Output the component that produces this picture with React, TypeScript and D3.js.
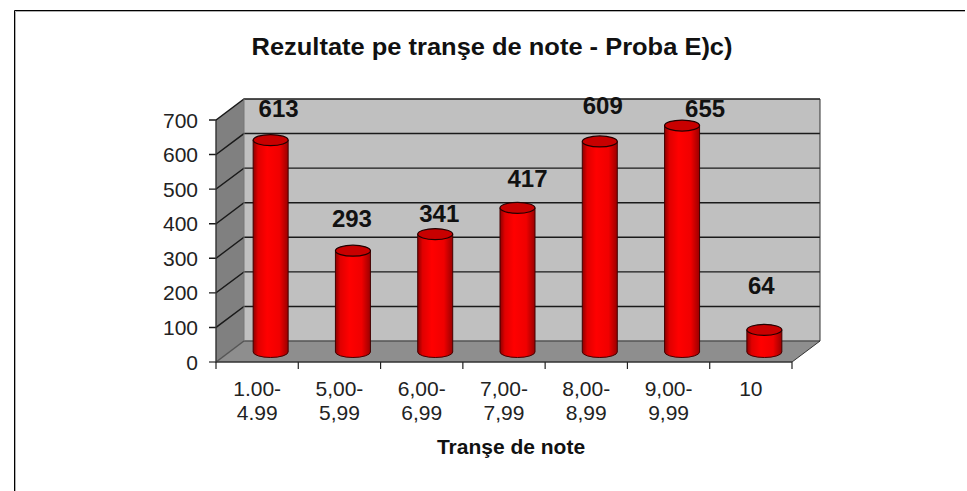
import React from "react";
import * as d3 from "d3";

const categories = [["1.00-", "4.99"], ["5,00-", "5,99"], ["6,00-", "6,99"], ["7,00-", "7,99"], ["8,00-", "8,99"], ["9,00-", "9,99"], ["10"]];
const values = [613, 293, 341, 417, 609, 655, 64];
const yTicks = [0, 100, 200, 300, 400, 500, 600, 700];
// manual label offsets from the top of each bar, as placed in the source chart
const labelDx = [8, -1, 4, 10, 3, 23, -3];
const labelDy = [-23, -24, -12, -21, -27, -9, -36];
const title = "Rezultate pe tranşe de note - Proba E)c)";
const xTitle = "Tranşe de note";

const W = 967, H = 491;
const x0 = 216, x1 = 792, yBase = 362, yTop = 120, depthX = 28, depthY = -21;
const FONT = "'Liberation Sans', Arial, sans-serif";

export default function App() {
  const y = d3.scaleLinear().domain([0, 700]).range([yBase, yTop]);
  const x = d3.scaleBand<number>().domain(d3.range(categories.length)).range([x0, x1]);
  const barW = 35, ry = 5.5;
  const barOffX = 13.5, barOffY = -10;
  const line = "#1a1a1a";
  return (
    <svg width={W} height={H} style={{ position: "absolute", left: 0, top: 0, background: "#fff" }} fontFamily={FONT}>
      <defs>
        <linearGradient id="cyl" x1="0" x2="1" y1="0" y2="0">
          <stop offset="0" stopColor="#8c0000" />
          <stop offset="0.14" stopColor="#e00000" />
          <stop offset="0.4" stopColor="#ff0000" />
          <stop offset="0.75" stopColor="#f00000" />
          <stop offset="1" stopColor="#9a0000" />
        </linearGradient>
      </defs>
      <path d={`M14.5,${H} V10.5 H965`} fill="none" stroke="#000" strokeWidth={1} />
      <path d={`M15.5,${H} V11.5 H965`} fill="none" stroke="#b0b0b0" strokeWidth={1} />
      <text x={492} y={55} textAnchor="middle" fontSize={24} fontWeight="bold" fill="#111" textLength={481} lengthAdjust="spacingAndGlyphs">{title}</text>

      {/* back wall */}
      <rect x={x0 + depthX} y={yTop + depthY} width={x1 - x0} height={yBase - yTop} fill="#c0c0c0" />
      {/* side wall */}
      <path d={`M${x0},${yBase} V${yTop} L${x0 + depthX},${yTop + depthY} V${yBase + depthY} Z`} fill="#808080" />
      {/* floor */}
      <path d={`M${x0},${yBase} L${x0 + depthX},${yBase + depthY} H${x1 + depthX} L${x1},${yBase} Z`} fill="#8e8e8e" />
      {yTicks.map((t) => (
        <path key={t} d={`M${x0 - 7},${y(t)} H${x0} L${x0 + depthX},${y(t) + depthY} H${x1 + depthX}`} fill="none" stroke={t === 0 ? "#555" : line} strokeWidth={1.4} />
      ))}
      <path d={`M${x0 + depthX},${yTop + depthY} V${yBase + depthY}`} stroke="#777" fill="none" />
      <path d={`M${x1 + depthX},${yTop + depthY} V${yBase + depthY} L${x1},${yBase}`} stroke="#333" strokeWidth={1} fill="none" />
      <path d={`M${x0},${yTop} V${yBase} H${x1}`} stroke="#333" strokeWidth={1.4} fill="none" />
      {d3.range(categories.length + 1).map((i) => {
        const px = x0 + (i * (x1 - x0)) / categories.length;
        return <path key={i} d={`M${px},${yBase} v7`} stroke="#222" strokeWidth={1.2} />;
      })}

      {yTicks.map((t) => (
        <text key={t} x={x0 - 18} y={y(t) + 7.5} textAnchor="end" fontSize={21} fill="#222">{t}</text>
      ))}

      {values.map((v, i) => {
        const cx = (x(i) as number) + x.bandwidth() / 2 + barOffX;
        const bot = y(0) + barOffY;
        const top = y(v) + barOffY;
        const l = cx - barW / 2, r = cx + barW / 2;
        return (
          <g key={i}>
            <path d={`M${l},${top} V${bot} A${barW / 2},${ry} 0 0 0 ${r},${bot} V${top} Z`} fill="url(#cyl)" stroke="#400" strokeWidth={1} />
            <ellipse cx={cx} cy={top} rx={barW / 2} ry={ry} fill="#c80000" stroke="#200" strokeWidth={1.2} />
            <text x={cx + labelDx[i]} y={top + labelDy[i]} textAnchor="middle" fontSize={24} fontWeight="bold" fill="#111">{v}</text>
          </g>
        );
      })}

      {categories.map((c, i) => (
        <text key={i} x={(x(i) as number) + x.bandwidth() / 2} textAnchor="middle" fontSize={21} fill="#222">
          {c.map((s, j) => (
            <tspan key={j} x={(x(i) as number) + x.bandwidth() / 2} y={395.5 + j * 24.5}>{s}</tspan>
          ))}
        </text>
      ))}
      <text x={511} y={454} textAnchor="middle" fontSize={21} fontWeight="bold" fill="#111">{xTitle}</text>
    </svg>
  );
}
